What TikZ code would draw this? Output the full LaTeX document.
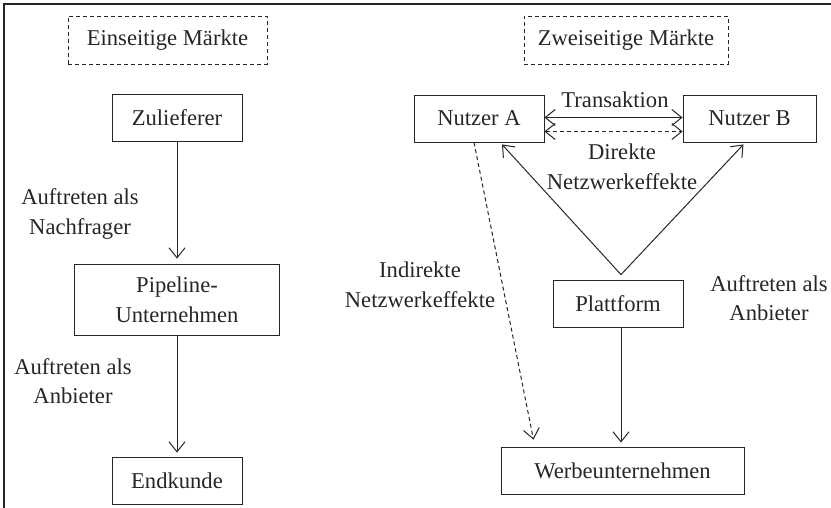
\documentclass[tikz,border=0pt]{standalone}
\usepackage{fontspec}
\setmainfont{Liberation Serif}
\usetikzlibrary{arrows.meta}

\begin{document}
\begin{tikzpicture}
	[   x=0.5pt,y=-0.5pt,
		every node/.style={font=\fontsize{11.3}{14.8}\selectfont,text=black!85},
		bnode/.style={draw=black!85,minimum width=#1,minimum height=23.5pt,inner sep=0pt,align=center},
		dnode/.style={draw=black!85,dash pattern=on 2pt off 1.5pt,minimum width=#1,minimum height=24pt,inner sep=0pt},
		lnode/.style={align=center,inner sep=0pt},
	]
	\tikzset{normal arrow/.style={draw=black!85,line width=0.5pt,-{Straight Barb[length=5pt,width=8pt]}}}
	\tikzset{double arrow/.style={draw=black!85,line width=0.5pt,{Straight Barb[length=5pt,width=8pt]}-{Straight Barb[length=5pt,width=8pt]}}}
	\useasboundingbox (0,0) rectangle (831,508);
	\draw[line width=1pt,black!85] (4,508) -- (4,4) -- (831,4);
	
	% einseitige Maerkte
	\node[dnode=99.5pt] (einseitig) at (167.5,40) {Einseitige Märkte};
	\node[bnode=65pt] (zulieferer) at (177,117.5) {Zulieferer};
	\node[bnode=102.5pt,minimum height=35.5pt] (pipeline) at (177,299.5) {Pipeline-\\Unternehmen};
	\node[bnode=65pt] (endkunde) at (177,480.5) {Endkunde};
	\node[lnode] (nachfrager) at (80,214) {Auftreten als\\Nachfrager};
	\node[lnode] (anbieter-l) at (73,381) {Auftreten als\\Anbieter};
	\path[normal arrow] (zulieferer) -- ([yshift=2.5pt]pipeline.north);
	\path[normal arrow] (pipeline) -- ([yshift=2pt]endkunde.north);
	
	% zweiseitige Maerkte
	\node[dnode=102pt] (zweiseitig) at (626,40) {Zweiseitige Märkte};
	\node[bnode=65pt] (nutzer-a) at (479,118.5) {Nutzer A};
	\node[bnode=66.5pt] (nutzer-b) at (749.5,118.5) {Nutzer B};
	\node[bnode=65pt] (plattform) at (618,303.5) {Plattform};
	\node[bnode=121.5pt] (werbung) at (622.5,470.5) {Werbeunternehmen};
	\coordinate (apex) at ([xshift=1.5pt,yshift=2.5pt]plattform.north);
	
	\node[lnode] (transaktion) at (615,100) {Transaktion};
	\node[lnode] (direkt) at (622,167) {Direkte\\Netzwerkeffekte};
	\node[lnode] (indirekt) at (420,285) {Indirekte\\Netzwerkeffekte};
	\node[lnode] (anbieter-r) at (769,298) {Auftreten als\\Anbieter};
	
	\path[double arrow] ([yshift=0.5pt]nutzer-a.east) -- ([yshift=0.5pt]nutzer-b.west);
	\path[double arrow,dash pattern=on 2pt off 1.5pt] ([yshift=-6.5pt]nutzer-a.east) -- ([yshift=-6.5pt]nutzer-b.west);
	\path[normal arrow] (apex) -- ([xshift=11.5pt,yshift=-1pt]nutzer-a.south);
	\path[normal arrow] (apex) -- ([xshift=-3pt,yshift=-1pt]nutzer-b.south);
	\path[normal arrow] (plattform.south -| apex) -- ([yshift=2pt]werbung.north -| apex);
	\path[normal arrow,dash pattern=on 2pt off 1.5pt] ([xshift=-2.5pt]nutzer-a.south) -- ([xshift=-44.5pt,yshift=3.5pt]werbung.north);
\end{tikzpicture}
\end{document}
